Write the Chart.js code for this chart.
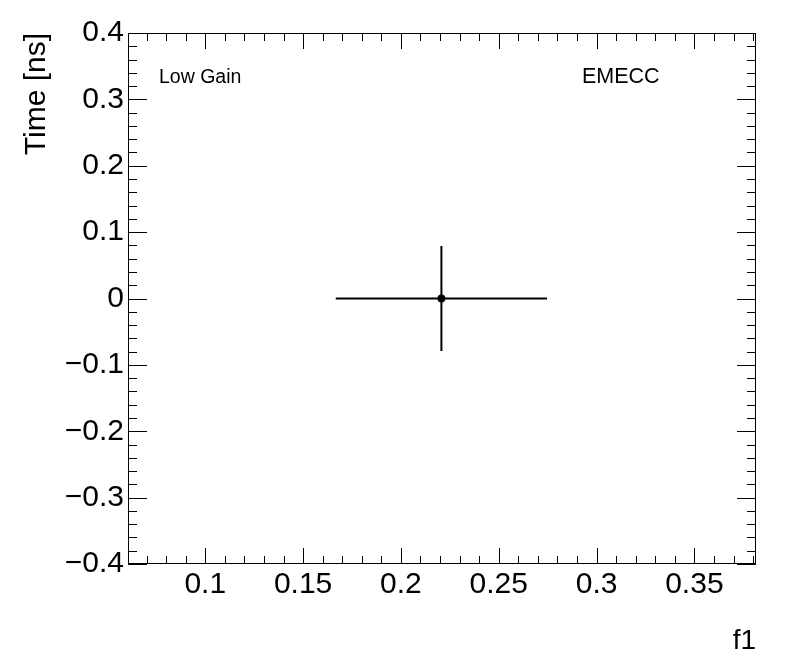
<!DOCTYPE html>
<html>
<head>
<meta charset="utf-8">
<script src="https://cdn.jsdelivr.net/npm/chart.js@4.4.0/dist/chart.umd.min.js"></script>
<style>
  body { margin: 0; background: #fff; }
  canvas { display: block; }
</style>
</head>
<body>
<canvas id="chart" width="796" height="672"></canvas>
<script>
// data
const pointX = [0.2207];
const pointY = [0];
const errX = [0.054];
const errY = [0.079];

const xTicks = [0.1, 0.15, 0.2, 0.25, 0.3, 0.35];
const yTicks = [-0.4, -0.3, -0.2, -0.1, 0, 0.1, 0.2, 0.3, 0.4];

const FONT = "'Liberation Sans', Arial, Helvetica, sans-serif";

function fmt(v) {
  const s = String(Math.round(v * 100) / 100);
  return s.replace('-', '\u2212');
}

// ROOT style frame, inward ticks, error bars and labels
const rootStyle = {
  id: 'rootStyle',
  beforeDatasetsDraw(chart) {
    const ctx = chart.ctx;
    const x = chart.scales.x, y = chart.scales.y;
    ctx.save();
    ctx.strokeStyle = '#000';
    ctx.lineWidth = 2;
    ctx.beginPath();
    for (let i = 0; i < pointX.length; i++) {
      const px = x.getPixelForValue(pointX[i]);
      const py = y.getPixelForValue(pointY[i]);
      ctx.moveTo(x.getPixelForValue(pointX[i] - errX[i]), py);
      ctx.lineTo(x.getPixelForValue(pointX[i] + errX[i]), py);
      ctx.moveTo(px, y.getPixelForValue(pointY[i] - errY[i]));
      ctx.lineTo(px, y.getPixelForValue(pointY[i] + errY[i]));
    }
    ctx.stroke();
    ctx.restore();
  },
  afterDraw(chart) {
    const ctx = chart.ctx;
    const a = chart.chartArea;
    const x = chart.scales.x, y = chart.scales.y;
    ctx.save();
    ctx.strokeStyle = '#000';
    ctx.lineWidth = 1;
    ctx.strokeRect(a.left + 0.5, a.top + 0.5, a.right - a.left - 1, a.bottom - a.top - 1);

    ctx.beginPath();
    // x ticks, minor every 0.01
    for (let k = 6; k <= 38; k++) {
      const v = k / 100;
      const px = Math.round(x.getPixelForValue(v)) + 0.5;
      if (px < a.left || px > a.right) continue;
      const len = (k % 5 === 0) ? 16 : 8;
      ctx.moveTo(px, a.bottom); ctx.lineTo(px, a.bottom - len);
      ctx.moveTo(px, a.top); ctx.lineTo(px, a.top + len);
    }
    // y ticks, minor every 0.02
    for (let k = -20; k <= 20; k++) {
      const v = k / 50;
      const py = Math.round(y.getPixelForValue(v)) + 0.5;
      const len = (k % 5 === 0) ? 19 : 9;
      ctx.moveTo(a.left, py); ctx.lineTo(a.left + len, py);
      ctx.moveTo(a.right, py); ctx.lineTo(a.right - len, py);
    }
    ctx.stroke();

    ctx.fillStyle = '#000';
    ctx.textAlign = 'left';
    ctx.textBaseline = 'alphabetic';
    ctx.font = '19.5px ' + FONT;
    ctx.fillText('Low Gain', 159, 83);
    ctx.font = '21.5px ' + FONT;
    ctx.fillText('EMECC', 582, 83);

    ctx.font = '28px ' + FONT;
    ctx.textAlign = 'right';
    ctx.fillText('f1', a.right, 649);

    ctx.font = '30px ' + FONT;
    ctx.translate(45, a.top);
    ctx.rotate(-Math.PI / 2);
    ctx.textAlign = 'right';
    ctx.fillText('Time [ns]', 0, 0);
    ctx.restore();
  }
};

new Chart(document.getElementById('chart'), {
  type: 'scatter',
  data: {
    datasets: [{
      data: pointX.map((v, i) => ({ x: v, y: pointY[i] })),
      pointRadius: 4,
      pointBackgroundColor: '#000',
      pointBorderColor: '#000',
      pointBorderWidth: 0
    }]
  },
  options: {
    responsive: false,
    animation: false,
    events: [],
    layout: { padding: { left: 0, top: 33, right: 40, bottom: 0 } },
    plugins: { legend: { display: false }, tooltip: { enabled: false } },
    scales: {
      x: {
        type: 'linear',
        min: 0.0605,
        max: 0.3815,
        afterBuildTicks: s => { s.ticks = xTicks.map(v => ({ value: v })); },
        afterFit: s => { s.height = 108; },
        grid: { display: false, drawTicks: false },
        border: { display: false },
        ticks: {
          autoSkip: false,
          maxRotation: 0,
          padding: 3,
          color: '#000',
          font: { family: FONT, size: 30 },
          callback: v => fmt(v)
        }
      },
      y: {
        type: 'linear',
        min: -0.4,
        max: 0.4,
        afterBuildTicks: s => { s.ticks = yTicks.map(v => ({ value: v })); },
        afterFit: s => { s.width = 128; },
        grid: { display: false, drawTicks: false },
        border: { display: false },
        ticks: {
          autoSkip: false,
          padding: 4,
          color: '#000',
          font: { family: FONT, size: 30 },
          callback: v => fmt(v)
        }
      }
    }
  },
  plugins: [rootStyle]
});
</script>
</body>
</html>
